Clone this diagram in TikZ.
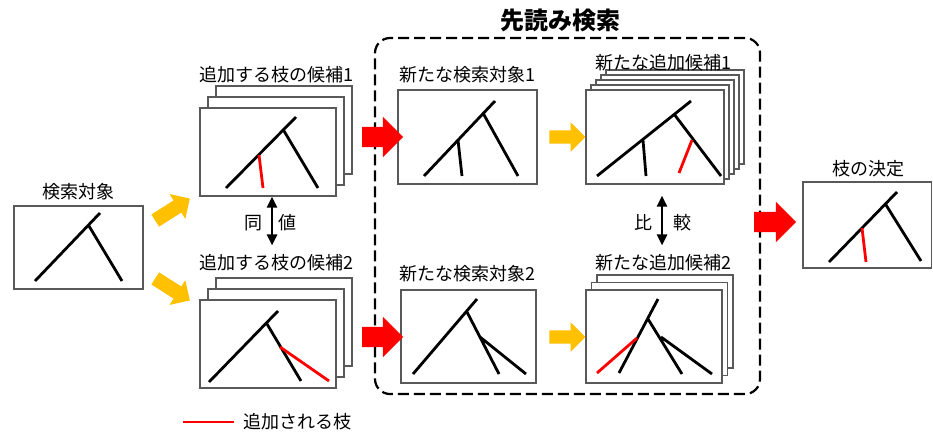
\documentclass[tikz,border=0pt]{standalone}
\usepackage{fontspec}
\setmainfont{Noto Sans CJK JP}
\usetikzlibrary{shapes.arrows,arrows.meta}

\definecolor{addred}{RGB}{255,0,0}
\definecolor{stepgold}{RGB}{255,192,0}

\begin{document}
\begin{tikzpicture}[x=1pt,y=-1pt,
    panel/.style={draw=black!65,line width=1.2pt,fill=white,inner sep=0pt},
    caption/.style={font=\fontsize{18}{20}\selectfont,inner sep=0pt},
    branch/.style={line width=2.8pt},
    added/.style={line width=2.8pt,draw=addred},
    fatarrow/.style={single arrow,inner xsep=0pt,minimum width=0pt,
      single arrow tip angle=90},
    redarrow/.style={fatarrow,fill=addred,inner ysep=10pt,
      single arrow head extend=10pt},
    goldarrow/.style={fatarrow,fill=stepgold,inner ysep=6.5pt,
      single arrow head extend=8pt},
    pair/.style={line width=2.5pt,{Triangle[length=11pt,width=10pt]}-{Triangle[length=11pt,width=10pt]}}]
          \useasboundingbox (0,0) rectangle (933,434);

          % look-ahead frame
          \draw (567.5,216) node[draw,line width=2.2pt,dash pattern=on 11pt off 5pt,
          rounded corners=15pt,minimum width=385,minimum height=356] (lookahead) {};

          \draw (560,20) node[font=\fontsize{24}{26}\selectfont\bfseries] (lookaheadlab)
          {先読み検索};

          % search target
          \draw (78.5,247.5) node[panel,minimum width=129,minimum height=83] (target) {};
          \draw (78,192) node[caption] (targetlab) {検索対象};
          \draw[branch] (35,281) -- (100,213) (89,226) -- (122,281);

          % candidate 1
          \draw (284,130) node[panel,minimum width=136,minimum height=88] (candone3) {};
          \draw (276,141) node[panel,minimum width=136,minimum height=88] (candone2) {};
          \draw (268,152) node[panel,minimum width=136,minimum height=88] (candone) {};
          \draw (276,75) node[caption] (candonelab) {追加する枝の候補1};
          \draw[branch] (226,188) -- (296,117) (284,131) -- (318,188);
          \draw[added] (259,155) -- (263,188);

          % candidate 2
          \draw (284,322) node[panel,minimum width=136,minimum height=88] (candtwo3) {};
          \draw (276,333) node[panel,minimum width=136,minimum height=88] (candtwo2) {};
          \draw (268,344) node[panel,minimum width=136,minimum height=88] (candtwo) {};
          \draw (276,263) node[caption] (candtwolab) {追加する枝の候補2};
          \draw[branch] (209,382) -- (278,311) (267,324) -- (301,381);
          \draw[added] (280,347) -- (329,381);

          \draw[pair,shorten >=9pt] ([xshift=4pt]candone.south) -- ([xshift=4pt]candone.south |- candtwolab.north);
          \draw (253,223) node[caption] (samel) {同};
          \draw (287,223) node[caption] (samer) {値};

          % new search target 1
          \draw (467.5,137) node[panel,minimum width=139,minimum height=94] (searchone) {};
          \draw (467,75) node[caption] (searchonelab) {新たな検索対象1};
          \draw[branch] (424,176) -- (495,101) (483,113) -- (518,176) (458,140) -- (462,176);

          % new search target 2
          \draw (468.5,336.5) node[panel,minimum width=135,minimum height=93] (searchtwo) {};
          \draw (467,274) node[caption] (searchtwolab) {新たな検索対象2};
          \draw[branch] (413,374) -- (477,299) (467,312) -- (499,374) (480,337) -- (526,374);

          % new add candidates 1
          \draw (675,117) node[panel,minimum width=138,minimum height=94] (newone4) {};
          \draw (670,122) node[panel,minimum width=138,minimum height=94] (newone3) {};
          \draw (665,127) node[panel,minimum width=138,minimum height=94] (newone2) {};
          \draw (660,132) node[panel,minimum width=138,minimum height=94] (newone1) {};
          \draw (655,137) node[panel,minimum width=138,minimum height=94] (newone) {};
          \draw (663,63) node[caption] (newonelab) {新たな追加候補1};
          \draw[branch] (597,176) -- (691,101) (674,114) -- (721,176) (643,140) -- (646,176);
          \draw[added] (692,140) -- (679,173);

          % new add candidates 2
          \draw (665,321.5) node[panel,minimum width=136,minimum height=93] (newtwo2) {};
          \draw (659.5,329) node[panel,minimum width=136,minimum height=93] (newtwo1) {};
          \draw (654,336.5) node[panel,minimum width=136,minimum height=93] (newtwo) {};
          \draw (663,263) node[caption] (newtwolab) {新たな追加候補2};
          \draw[branch] (619,373) -- (658,299) (648,319) -- (682,374) (661,337) -- (712,374);
          \draw[added] (637,338) -- (597,373);

          \draw[pair,shorten <=11pt,shorten >=9pt] ([xshift=7pt]newone.south) -- ([xshift=7pt]newone.south |- newtwolab.north);
          \draw (643,223) node[caption] (cmpl) {比};
          \draw (682,223) node[caption] (cmpr) {較};

          % decision
          \draw (867.25,225) node[panel,minimum width=128.5,minimum height=86] (decision) {};
          \draw (868,169) node[caption] (decisionlab) {枝の決定};
          \draw[branch] (829,262) -- (897,192) (886,205) -- (921,261);
          \draw[added] (862,228) -- (866,262);

          % block arrows
          \draw (169.5,211.5) node[fatarrow,fill=stepgold,inner ysep=7pt,
          single arrow head extend=7.5pt,minimum height=41,rotate=32.5] (upstep) {};
          \draw (169.5,287.5) node[fatarrow,fill=stepgold,inner ysep=7pt,
          single arrow head extend=7.5pt,minimum height=41,rotate=-32.5] (downstep) {};

          \draw (377.5,137) node[redarrow,minimum height=41] (toone) {};
          \draw (377.5,337) node[redarrow,minimum height=41] (totwo) {};
          \draw (564,137) node[goldarrow,minimum height=36] (expandone) {};
          \draw (564,337) node[goldarrow,minimum height=36] (expandtwo) {};
          \draw (770,222) node[redarrow,minimum height=42] (todecision) {};

          % legend
          \coordinate (keyfrom) at (183,422);
          \coordinate (keyto) at (234,422);
          \draw[added] (keyfrom) -- (keyto);
          \draw (243,422) node[caption,anchor=west] (keylab) {追加される枝};
        \end{tikzpicture}
\end{document}
